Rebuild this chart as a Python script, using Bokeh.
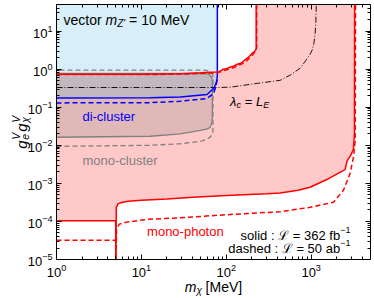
import math
from bokeh.plotting import figure
from bokeh.models import Label, LogAxis, FixedTicker, CustomJSTickFormatter
from bokeh.embed import file_html
from bokeh.resources import INLINE

# ---------------- data ----------------
mass_range = (1, 5000)          # m_chi [MeV]  (visible box)
coupling_range = (1e-5, 50)     # g_e^V g_chi^V (visible box)

x_major = [1, 10, 100, 1000]
y_major = [1e-5, 1e-4, 1e-3, 1e-2, 1e-1, 1, 10]

# mono-photon, solid (362 fb^-1): lower edge
mp_lo_m = [1, 4.98, 4.99, 5.02, 5.06, 5.3, 6.0, 7.0, 10, 20, 40, 100, 300, 432, 700, 973, 1530, 2000, 2510, 2650, 2930, 3150, 3230, 3250]
mp_lo_g = [1.05e-4, 1.05e-4, 1e-5, 1e-5, 2.3e-4, 2.9e-4, 3.2e-4, 3.4e-4, 3.6e-4, 3.9e-4, 4.3e-4, 4.8e-4, 5.3e-4, 5.6e-4, 6.6e-4, 7.9e-4, 1.26e-3, 1.75e-3, 2.3e-3, 3.9e-3, 5.5e-3, 8e-3, 2e-2, 50]
# mono-photon, solid: upper edge
mp_up_m = [1, 10, 30, 50, 75, 82, 88, 92, 100, 110, 121, 135, 150, 164, 180, 202, 215, 225, 225]
mp_up_g = [0.74, 0.74, 0.76, 0.80, 0.84, 0.86, 0.93, 1.0, 1.02, 1.13, 1.2, 1.35, 1.45, 1.72, 2.0, 2.63, 2.9, 3.36, 50]
# mono-photon, dashed (50 ab^-1)
mp_lo_d_m = [1, 4.98, 4.99, 5.02, 5.1, 5.5, 6.8, 11.7, 28.8, 100, 432, 973, 1830, 2400, 2870, 3150, 3300, 3330]
mp_lo_d_g = [3.2e-5, 3.2e-5, 1e-5, 1e-5, 6.5e-5, 8.5e-5, 9.6e-5, 1.13e-4, 1.25e-4, 1.5e-4, 1.8e-4, 2.35e-4, 3.2e-4, 6.6e-4, 1.8e-3, 4.9e-3, 1.3e-2, 50]
mp_up_d_m = [1, 10, 30, 50, 78, 95, 125, 165, 200, 218, 228, 228]
mp_up_d_g = [0.72, 0.72, 0.74, 0.77, 0.80, 0.92, 1.12, 1.5, 2.2, 2.9, 3.6, 50]

# di-cluster
dc_m = [1, 12.7, 28.8, 59.3, 71, 75, 77.7, 78.5, 78.5]
dc_g = [0.176, 0.178, 0.187, 0.216, 0.31, 0.40, 0.51, 0.7, 50]
dc_d_m = [1, 12.7, 28.8, 59.3, 71, 76, 78.2]
dc_d_g = [0.13, 0.132, 0.144, 0.17, 0.23, 0.38, 0.55]

# mono-cluster (contours, open at the left edge)
mc_m = [1, 12.7, 28.8, 49.4, 60, 64.8, 67.8, 68.5, 68.5, 67.8, 64, 56.8, 1]
mc_g = [0.0163, 0.0173, 0.02, 0.0248, 0.027, 0.030, 0.04, 0.06, 0.45, 0.58, 0.70, 0.77, 0.77]
mc_d_m = [1, 12.7, 28.8, 49.4, 60, 64.8, 69, 69.7, 69.7, 69, 65, 56.8, 1]
mc_d_g = [0.0094, 0.010, 0.011, 0.0127, 0.0145, 0.0165, 0.02, 0.026, 0.6, 0.72, 0.85, 0.94, 0.94]

# lambda_c = L_E
lam_m = [1, 78, 111, 225, 432, 568, 742, 870, 973, 1027, 1080, 1114, 1135, 1145, 1148]
lam_g = [0.33, 0.33, 0.336, 0.42, 0.51, 0.70, 1.06, 1.72, 2.5, 3.16, 5.0, 8.9, 16, 35, 50]

# ---------------- geometry ----------------
CW, CH = 374, 296                               # canvas (page has no margin)
BOX_L, BOX_R, BOX_T, BOX_B = 56, 370, 4, 259    # axes box inside canvas (px)

lx0, lx1 = math.log10(mass_range[0]), math.log10(mass_range[1])
ppx = (BOX_R - BOX_L) / (lx1 - lx0)
x_frame = (10 ** (lx0 - BOX_L / ppx), 10 ** (lx1 + (CW - BOX_R) / ppx))
ly0, ly1 = math.log10(coupling_range[0]), math.log10(coupling_range[1])
ppy = (BOX_B - BOX_T) / (ly1 - ly0)
y_frame = (10 ** (ly0 - (CH - BOX_B) / ppy), 10 ** (ly1 + BOX_T / ppy))

FONT = "Liberation Sans"
RED, BLUE, GRAY = "#ff0000", "#0000ff", "#808080"

p = figure(width=CW, height=CH, x_axis_type="log", y_axis_type="log",
           x_range=x_frame, y_range=y_frame, title=None,
           output_backend="svg", toolbar_location=None, min_border=0)
p.grid.visible = False
p.outline_line_color = None
p.background_fill_color = "white"
p.border_fill_color = "white"

bottom_axis = p.below[0]
left_axis = p.left[0]

def minors(majors, lo, hi):
    out = []
    for mj in majors:
        for k in range(2, 10):
            v = k * mj
            if lo < v < hi:
                out.append(v)
    return out

x_minor = minors(x_major, mass_range[0], mass_range[1])
y_minor = minors([1e-6] + y_major, coupling_range[0], coupling_range[1])

def style(ax, ticks, mins, bounds, loc, labels=True):
    ax.ticker = FixedTicker(ticks=ticks, minor_ticks=mins)
    ax.bounds = bounds
    ax.fixed_location = loc
    ax.major_tick_in = 5
    ax.major_tick_out = 0
    ax.minor_tick_in = 3
    ax.minor_tick_out = 0
    ax.major_tick_line_color = "black"
    ax.minor_tick_line_color = "black"
    ax.axis_line_color = "black"
    ax.axis_line_width = 1
    if labels:
        ax.major_label_text_font = FONT
        ax.major_label_text_font_size = "13px"
        ax.major_label_text_color = "black"
        ax.major_label_standoff = 4
    else:
        ax.formatter = CustomJSTickFormatter(code="return ''")
        ax.major_label_text_font_size = "0px"
        ax.major_label_standoff = 0

top_axis = LogAxis()
right_axis = LogAxis()
p.add_layout(top_axis, "above")
p.add_layout(right_axis, "right")
style(bottom_axis, x_major, x_minor, mass_range, coupling_range[0])
style(left_axis, y_major, y_minor, coupling_range, mass_range[0])
style(top_axis, x_major, x_minor, mass_range, coupling_range[1], labels=False)
style(right_axis, y_major, y_minor, coupling_range, mass_range[1], labels=False)

# ---------------- filled regions ----------------
p.patch(mp_lo_m + mp_up_m[::-1], mp_lo_g + mp_up_g[::-1],
        fill_color=RED, fill_alpha=0.21, line_color=None)
p.patch(dc_m + [mass_range[0]], dc_g + [coupling_range[1]],
        fill_color="#87ceeb", fill_alpha=0.32, line_color=None)
p.patch(mc_m, mc_g, fill_color=GRAY, fill_alpha=0.24, line_color=None)

# ---------------- lines ----------------
p.line(mc_m, mc_g, line_color=GRAY, line_width=1.3)
p.line(mc_d_m, mc_d_g, line_color=GRAY, line_width=1.3, line_dash="5 3")
p.line(lam_m, lam_g, line_color="black", line_width=0.9, line_dash="6 2 1 2")
p.line(dc_m, dc_g, line_color=BLUE, line_width=1.5)
p.line(dc_d_m, dc_d_g, line_color=BLUE, line_width=1.5, line_dash="5 3")
p.line(mp_lo_m, mp_lo_g, line_color=RED, line_width=1.5)
p.line(mp_up_m, mp_up_g, line_color=RED, line_width=1.5)
p.line(mp_lo_d_m, mp_lo_d_g, line_color=RED, line_width=1.5, line_dash="5 3")
p.line(mp_up_d_m, mp_up_d_g, line_color=RED, line_width=1.5, line_dash="5 3")

# ---------------- texts ----------------
W = {' ': 278, 'a': 556, 'b': 556, 'c': 500, 'd': 556, 'e': 556, 'f': 278, 'g': 556,
     'h': 556, 'i': 222, 'l': 222, 'm': 833, 'n': 556, 'o': 556, 'p': 556, 'r': 333,
     's': 500, 't': 278, 'u': 556, 'v': 500, 'M': 833, 'V': 667, 'E': 667, 'L': 556,
     'Z': 611, "'": 191, '=': 584, ':': 278, '-': 333, '\u2212': 584, '[': 278, ']': 278,
     '\u03bb': 500, '\u03c7': 520, '\u2112': 700}

def tw(s, size):
    return sum(W.get(c, 556) for c in s) * size / 1000.0

def put_runs(x, y, parts, color, x_off=0.0, y_off=0.0, rotate=False, center=False):
    """parts: (text, size, italic, shift, advance or None)"""
    total = sum((a if a is not None else tw(t, s)) for t, s, i, sh, a in parts)
    d = -total / 2.0 if center else 0.0
    for text, size, italic, shift, adv in parts:
        lead = len(text) - len(text.lstrip(' '))
        dd = d + tw(' ' * lead, size)
        if rotate:
            xo, yo = x_off - shift, y_off + dd
        else:
            xo, yo = x_off + dd, y_off + shift
        p.add_layout(Label(x=x, y=y, x_offset=xo, y_offset=yo, text=text.strip(),
                           text_font=FONT, text_font_size=f"{size}px",
                           text_font_style="italic" if italic else "normal",
                           text_color=color, text_align="left", text_baseline="alphabetic",
                           angle=math.pi / 2 if rotate else 0.0))
        d += adv if adv is not None else tw(text, size)

def label(x, y, text, color, size=13, align="left"):
    p.add_layout(Label(x=x, y=y, y_offset=-0.36 * size, text=text, text_font=FONT,
                       text_font_size=f"{size}px", text_color=color, text_align=align,
                       text_baseline="alphabetic"))

# vector m_Z' = 10 MeV
s = 14
put_runs(1.21, 26, [("vector ", s, False, 0, None), ("m", s, True, 0, None),
                    ("Z'", 10, True, -3, None), (" = 10 MeV", s, False, 0, None)],
         "black", y_off=-0.36 * s)

label(2.02, 0.074, "di-cluster", BLUE)
label(2.02, 0.0052, "mono-cluster", GRAY)
label(11.67, 7.4e-5, "mono-photon", RED)

put_runs(111, 0.187, [("\u03bb", 13, True, 0, None), ("c", 9, True, -3, None),
                      (" = ", 13, False, 0, None), ("L", 13, True, 0, None),
                      ("E", 9, True, -3, None)], "black", y_off=-0.36 * 13)

# luminosity legend (right aligned)
xr = 2194
for yy, txt in [(5.8e-5, "solid : \u2112 = 362 fb"), (2.59e-5, "dashed : \u2112 = 50 ab")]:
    label(xr, yy, txt, "black", align="right")
    p.add_layout(Label(x=xr, y=yy, y_offset=-0.36 * 13 + 5, text="\u22121", text_font=FONT,
                       text_font_size="9px", text_color="black", text_baseline="alphabetic"))

# x-axis label  m_chi [MeV]
put_runs(math.sqrt(mass_range[0] * mass_range[1]), coupling_range[0],
         [("m", 14, True, 0, None), ("\u03c7", 10, True, -3.5, None), (" [MeV]", 14, False, 0, None)],
         "black", y_off=-27.5, center=True)

# y-axis label  g_e^V g_chi^V (rotated)
put_runs(mass_range[0], math.sqrt(coupling_range[0] * coupling_range[1]),
         [("g", 15, True, 0, 9.0), ("e", 10.5, True, -3.5, 0), ("V", 10.5, True, 6, 8.0),
          ("g", 15, True, 0, 9.0), ("\u03c7", 10.5, True, -3.5, 0), ("V", 10.5, True, 6, 7.5)],
         "black", x_off=-35, rotate=True, center=True)

open("out.html", "w").write(file_html(p, INLINE))
